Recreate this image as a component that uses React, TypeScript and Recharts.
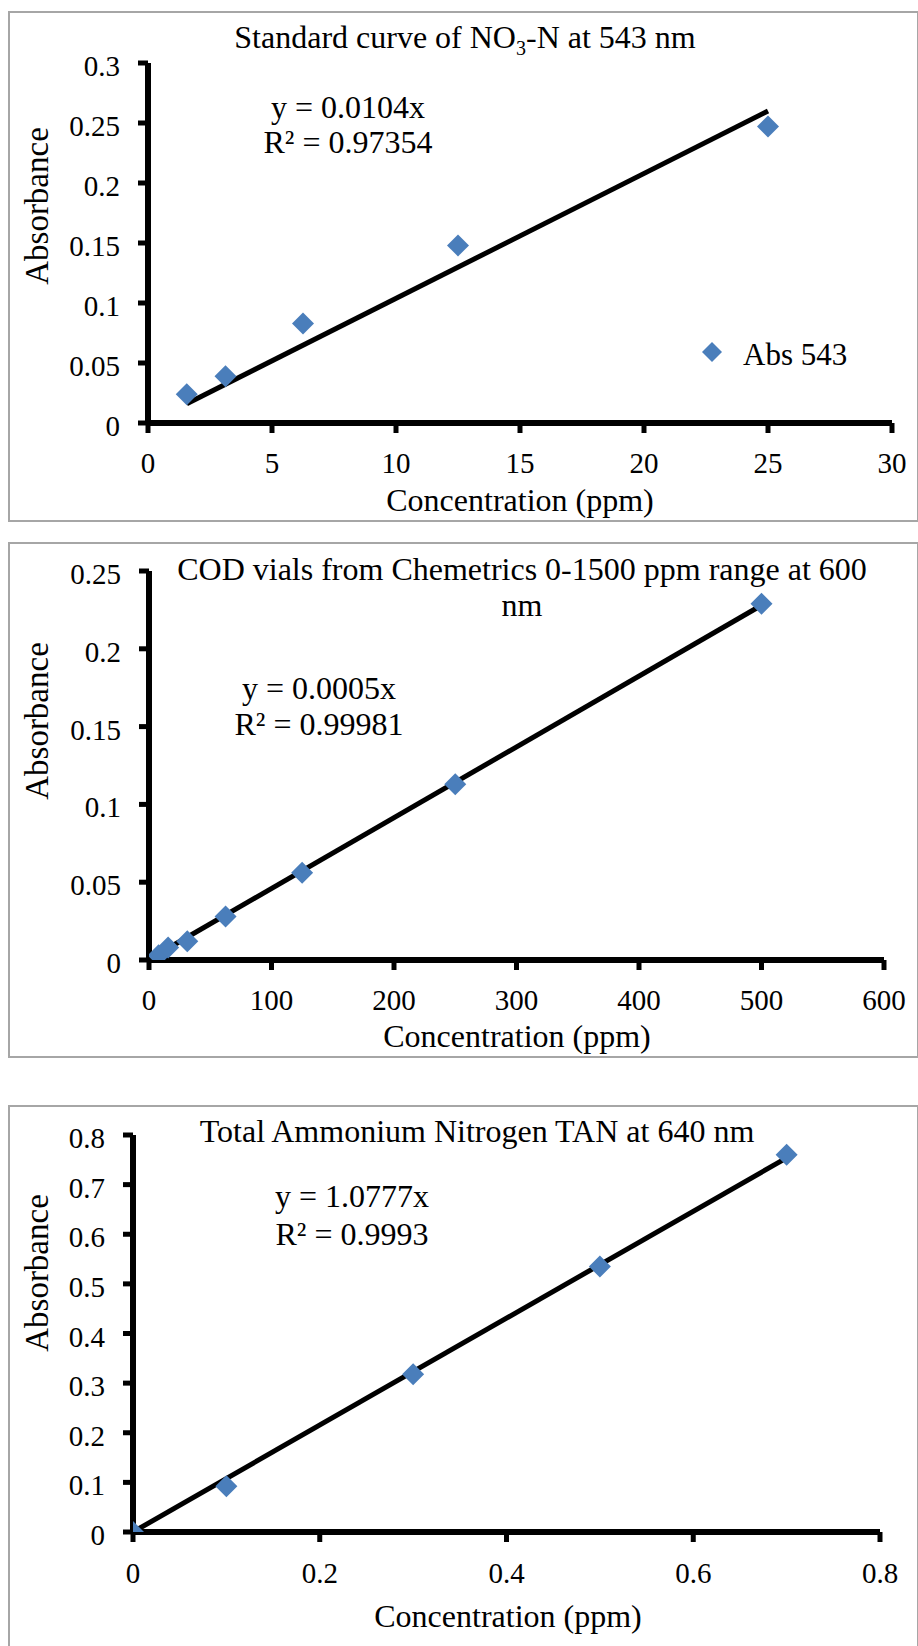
import React from "react";
import {
  ComposedChart,
  Scatter,
  Line,
  XAxis,
  YAxis,
  Legend,
} from "recharts";

document.body.style.margin = "0";

const FONT = "'Liberation Serif', 'Times New Roman', serif";
const BLUE = "#4a7ebb";

// Standard curve of NO3-N at 543 nm
const nitrateConc = [1.5625, 3.125, 6.25, 12.5, 25];
const nitrateAbs = [0.024, 0.039, 0.083, 0.148, 0.247];
const nitrateFitConc = [1.5625, 25];
const nitrateFitAbs = [0.016, 0.26];
const nitrateXTicks = [0, 5, 10, 15, 20, 25, 30];
const nitrateYTicks = [0, 0.05, 0.1, 0.15, 0.2, 0.25, 0.3];

// COD vials 0-1500 ppm at 600 nm
const codConc = [7.8125, 15.625, 31.25, 62.5, 125, 250, 500];
const codAbs = [0.003, 0.008, 0.012, 0.028, 0.056, 0.113, 0.229];
const codFitConc = [7.8125, 500];
const codFitAbs = [0.004, 0.228];
const codXTicks = [0, 100, 200, 300, 400, 500, 600];
const codYTicks = [0, 0.05, 0.1, 0.15, 0.2, 0.25];

// Total Ammonium Nitrogen at 640 nm
const tanConc = [0, 0.1, 0.3, 0.5, 0.7];
const tanAbs = [0, 0.092, 0.318, 0.535, 0.76];
const tanFitConc = [0, 0.7];
const tanFitAbs = [0, 0.754];
const tanXTicks = [0, 0.2, 0.4, 0.6, 0.8];
const tanYTicks = [0, 0.1, 0.2, 0.3, 0.4, 0.5, 0.6, 0.7, 0.8];

const toPoints = (xs: number[], ys: number[]) =>
  xs.map((x, i) => ({ x, y: ys[i] }));

const Diamond = (props: any) => {
  const { cx, cy, fill } = props;
  const r = 11;
  return (
    <path
      d={`M${cx},${cy - r}L${cx + r},${cy}L${cx},${cy + r}L${cx - r},${cy}Z`}
      fill={fill}
    />
  );
};

const YTick = (props: any) => {
  const { x, y, payload } = props;
  return (
    <text
      x={x}
      y={y}
      dy={13}
      textAnchor="end"
      fontSize={29}
      fontFamily={FONT}
      fill="#000"
    >
      {payload.value}
    </text>
  );
};

const XTick = (props: any) => {
  const { x, y, payload } = props;
  return (
    <text
      x={x}
      y={y}
      dy={21}
      textAnchor="middle"
      fontSize={29}
      fontFamily={FONT}
      fill="#000"
    >
      {payload.value}
    </text>
  );
};

const LegendContent = (props: any) => {
  const items = (props.payload || []).filter((e: any) => e.type !== "none");
  return (
    <div>
      {items.map((entry: any, i: number) => (
        <div key={i} style={{ position: "relative", height: 40 }}>
          <svg
            width={22}
            height={22}
            style={{ position: "absolute", left: 0, top: 0 }}
          >
            <path d="M11,1L21,11L11,21L1,11Z" fill={entry.color} />
          </svg>
          <span
            style={{
              position: "absolute",
              left: 42,
              top: -2,
              fontFamily: FONT,
              fontSize: 31,
              lineHeight: "31px",
              color: "#000",
              whiteSpace: "nowrap",
            }}
          >
            {entry.value}
          </span>
        </div>
      ))}
    </div>
  );
};

interface PanelProps {
  top: number;
  height: number;
  borderTop: number;
  borderHeight: number;
  margin: { top: number; right: number; bottom: number; left: number };
  points: { x: number; y: number }[];
  fit: { x: number; y: number }[];
  xDomain: [number, number];
  yDomain: [number, number];
  xTicks: number[];
  yTicks: number[];
  xTickMargin: number;
  seriesName: string;
  showLegend?: boolean;
  children?: React.ReactNode;
}

function Panel({
  top,
  height,
  borderTop,
  borderHeight,
  margin,
  points,
  fit,
  xDomain,
  yDomain,
  xTicks,
  yTicks,
  xTickMargin,
  seriesName,
  showLegend,
  children,
}: PanelProps) {
  return (
    <div
      style={{
        position: "absolute",
        left: 0,
        top,
        width: 918,
        height,
        overflow: "hidden",
      }}
    >
      <div
        style={{
          position: "absolute",
          left: 8,
          top: borderTop,
          width: 907,
          height: borderHeight,
          border: "2px solid #a6a6a6",
        }}
      />
      <div style={{ position: "absolute", left: 0, top: 0 }}>
        <ComposedChart width={918} height={height} margin={margin}>
          <XAxis
            type="number"
            dataKey="x"
            domain={xDomain}
            ticks={xTicks}
            interval={0}
            height={60}
            axisLine={{ stroke: "#000", strokeWidth: 6 }}
            tickLine={{ stroke: "#000", strokeWidth: 5 }}
            tickSize={10}
            tickMargin={xTickMargin}
            tick={<XTick />}
            allowDataOverflow
          />
          <YAxis
            type="number"
            dataKey="y"
            domain={yDomain}
            ticks={yTicks}
            interval={0}
            width={100}
            axisLine={{ stroke: "#000", strokeWidth: 6 }}
            tickLine={{ stroke: "#000", strokeWidth: 5 }}
            tickSize={10}
            tickMargin={18}
            tick={<YTick />}
            allowDataOverflow
          />
          {showLegend && (
            <Legend
              layout="horizontal"
              verticalAlign="middle"
              align="center"
              content={<LegendContent />}
              wrapperStyle={{ left: 701, top: 341, width: 200 }}
            />
          )}
          <Scatter
            name={seriesName}
            data={points}
            dataKey="y"
            fill={BLUE}
            shape={<Diamond />}
            isAnimationActive={false}
          />
          <Line
            data={fit}
            dataKey="y"
            type="linear"
            stroke="#000"
            strokeWidth={5}
            dot={false}
            activeDot={false}
            legendType="none"
            isAnimationActive={false}
          />
        </ComposedChart>
      </div>
      <svg
        width={918}
        height={height}
        style={{ position: "absolute", left: 0, top: 0, pointerEvents: "none" }}
        fontFamily={FONT}
        fill="#000"
      >
        {children}
      </svg>
    </div>
  );
}

export default function App() {
  return (
    <div style={{ position: "relative", width: 918, height: 1646, background: "#fff" }}>
      <Panel
        top={0}
        height={530}
        borderTop={11}
        borderHeight={507}
        margin={{ top: 63, right: 26, bottom: 47, left: 48 }}
        points={toPoints(nitrateConc, nitrateAbs)}
        fit={toPoints(nitrateFitConc, nitrateFitAbs)}
        xDomain={[0, 30]}
        yDomain={[0, 0.3]}
        xTicks={nitrateXTicks}
        yTicks={nitrateYTicks}
        xTickMargin={19}
        seriesName="Abs 543"
        showLegend
      >
        <text x={465} y={48} fontSize={32} textAnchor="middle">
          Standard curve of NO
          <tspan fontSize={20} dy={7}>3</tspan>
          <tspan dy={-7}>-N at 543 nm</tspan>
        </text>
        <text x={348} y={118} fontSize={32} textAnchor="middle">
          y = 0.0104x
        </text>
        <text x={348} y={153} fontSize={32} textAnchor="middle">
          R² = 0.97354
        </text>
        <text x={520} y={511} fontSize={32} textAnchor="middle">
          Concentration (ppm)
        </text>
        <text
          x={48}
          y={206}
          fontSize={33}
          textAnchor="middle"
          transform="rotate(-90 48 206)"
        >
          Absorbance
        </text>
      </Panel>

      <Panel
        top={530}
        height={530}
        borderTop={12}
        borderHeight={512}
        margin={{ top: 41, right: 34, bottom: 40, left: 49 }}
        points={toPoints(codConc, codAbs)}
        fit={toPoints(codFitConc, codFitAbs)}
        xDomain={[0, 600]}
        yDomain={[0, 0.25]}
        xTicks={codXTicks}
        yTicks={codYTicks}
        xTickMargin={19}
        seriesName="Abs 600"
      >
        <text x={522} y={50} fontSize={32} textAnchor="middle">
          COD vials from Chemetrics 0-1500 ppm range at 600
        </text>
        <text x={522} y={86} fontSize={32} textAnchor="middle">
          nm
        </text>
        <text x={319} y={169} fontSize={32} textAnchor="middle">
          y = 0.0005x
        </text>
        <text x={319} y={205} fontSize={32} textAnchor="middle">
          R² = 0.99981
        </text>
        <text x={517} y={517} fontSize={32} textAnchor="middle">
          Concentration (ppm)
        </text>
        <text
          x={48}
          y={191}
          fontSize={33}
          textAnchor="middle"
          transform="rotate(-90 48 191)"
        >
          Absorbance
        </text>
      </Panel>

      <Panel
        top={1060}
        height={586}
        borderTop={45}
        borderHeight={600}
        margin={{ top: 75, right: 38, bottom: 54, left: 33 }}
        points={toPoints(tanConc, tanAbs)}
        fit={toPoints(tanFitConc, tanFitAbs)}
        xDomain={[0, 0.8]}
        yDomain={[0, 0.8]}
        xTicks={tanXTicks}
        yTicks={tanYTicks}
        xTickMargin={20}
        seriesName="Abs 640"
      >
        <text x={477} y={82} fontSize={32} textAnchor="middle">
          Total Ammonium Nitrogen TAN at 640 nm
        </text>
        <text x={352} y={147} fontSize={32} textAnchor="middle">
          y = 1.0777x
        </text>
        <text x={352} y={185} fontSize={32} textAnchor="middle">
          R² = 0.9993
        </text>
        <text x={508} y={567} fontSize={32} textAnchor="middle">
          Concentration (ppm)
        </text>
        <text
          x={48}
          y={213}
          fontSize={33}
          textAnchor="middle"
          transform="rotate(-90 48 213)"
        >
          Absorbance
        </text>
      </Panel>
    </div>
  );
}
